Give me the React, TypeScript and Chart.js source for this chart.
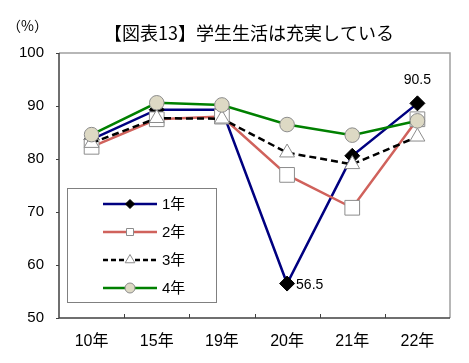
import React, { useEffect, useRef } from "react";
import { Chart, registerables } from "chart.js";

Chart.register(...registerables);

const title = "【図表13】学生生活は充実している";
const unitLabel = "（%）";
const categories = ["10年", "15年", "19年", "20年", "21年", "22年"];
const seriesNames = ["1年", "2年", "3年", "4年"];
const year1 = [83.7, 89.3, 89.3, 56.5, 80.6, 90.5];
const year2 = [82.3, 87.5, 88.0, 77.0, 70.8, 87.5];
const year3 = [83.0, 87.7, 87.6, 81.2, 79.0, 84.2];
const year4 = [84.6, 90.6, 90.2, 86.5, 84.5, 87.2];
const yMin = 50;
const yMax = 100;
const yStep = 10;
const labelledPoints = [
  { series: 0, index: 5, text: "90.5", pos: "above" },
  { series: 0, index: 3, text: "56.5", pos: "right" },
];

const FONT = "'Liberation Sans', Arial, 'Noto Sans CJK JP', sans-serif";
const JFONT = "'Noto Sans CJK JP', sans-serif";

const styles = [
  { color: "#000080", dash: [] as number[], point: "rectRot", r: 7.5, fill: "#000000", border: "#000000", lr: 4.5 },
  { color: "#D0625C", dash: [] as number[], point: "rect", r: 10.4, fill: "#FFFFFF", border: "#8C8C8C", lr: 7 },
  { color: "#000000", dash: [7, 4], point: "triangle", r: 8.6, fill: "#FFFFFF", border: "#8C8C8C", lr: 5.5 },
  { color: "#008000", dash: [] as number[], point: "circle", r: 7.3, fill: "#DDD9C4", border: "#8C8C8C", lr: 5 },
];

const decor = {
  id: "decor",
  beforeDatasetsDraw(chart: any) {
    const { ctx, chartArea: a } = chart;
    const xs = chart.scales.x;
    const ys = chart.scales.y;
    ctx.save();
    ctx.strokeStyle = "#A0A0A0";
    ctx.lineWidth = 1.5;
    ctx.beginPath();
    ctx.moveTo(a.left, a.top);
    ctx.lineTo(a.right, a.top);
    ctx.lineTo(a.right, a.bottom);
    ctx.stroke();
    ctx.strokeStyle = "#404040";
    ctx.lineWidth = 1.5;
    ctx.beginPath();
    ctx.moveTo(a.left, a.top);
    ctx.lineTo(a.left, a.bottom);
    ctx.lineTo(a.right, a.bottom);
    ctx.stroke();
    ctx.lineWidth = 1;
    for (let v = yMin; v <= yMax; v += yStep) {
      const y = Math.round(ys.getPixelForValue(v)) + 0.5;
      ctx.beginPath();
      ctx.moveTo(a.left - 3, y);
      ctx.lineTo(a.left, y);
      ctx.stroke();
    }
    for (let i = 0; i < categories.length - 1; i++) {
      const x = Math.round((xs.getPixelForValue(i) + xs.getPixelForValue(i + 1)) / 2) + 0.5;
      ctx.beginPath();
      ctx.moveTo(x, a.bottom);
      ctx.lineTo(x, a.bottom - 4);
      ctx.stroke();
    }
    ctx.restore();
  },
  afterDraw(chart: any) {
    const { ctx } = chart;
    ctx.save();
    ctx.fillStyle = "#000";
    ctx.textAlign = "center";
    ctx.textBaseline = "middle";
    ctx.font = `18px ${JFONT}`;
    ctx.fillText(title, 249, 33);
    ctx.textAlign = "left";
    ctx.font = `14px ${JFONT}`;
    ctx.fillText(unitLabel, 7, 26);
    ctx.font = `14px ${FONT}`;
    for (const lp of labelledPoints) {
      const el = chart.getDatasetMeta(lp.series).data[lp.index];
      if (!el) continue;
      if (lp.pos === "above") {
        ctx.textAlign = "center";
        ctx.fillText(lp.text, el.x, el.y - 23);
      } else {
        ctx.textAlign = "left";
        ctx.fillText(lp.text, el.x + 9, el.y + 2);
      }
    }
    const bx = 67.5, by = 188.5, bw = 149, bh = 114;
    ctx.fillStyle = "#FFFFFF";
    ctx.fillRect(bx, by, bw, bh);
    ctx.strokeStyle = "#808080";
    ctx.lineWidth = 1;
    ctx.strokeRect(bx, by, bw, bh);
    const rowsY = [204, 232, 260, 288];
    for (let i = 0; i < seriesNames.length; i++) {
      const s = styles[i];
      const y = rowsY[i];
      ctx.strokeStyle = s.color;
      ctx.lineWidth = 2.5;
      ctx.setLineDash(s.dash.length ? [5, 3] : []);
      ctx.beginPath();
      ctx.moveTo(103, y);
      ctx.lineTo(157, y);
      ctx.stroke();
      ctx.setLineDash([]);
      ctx.fillStyle = s.fill;
      ctx.strokeStyle = s.border;
      ctx.lineWidth = 1;
      const cx = 130;
      const r = s.lr;
      ctx.beginPath();
      if (s.point === "rectRot") {
        ctx.moveTo(cx, y - r);
        ctx.lineTo(cx + r, y);
        ctx.lineTo(cx, y + r);
        ctx.lineTo(cx - r, y);
        ctx.closePath();
      } else if (s.point === "rect") {
        ctx.rect(cx - r / 2, y - r / 2, r, r);
      } else if (s.point === "triangle") {
        ctx.moveTo(cx, y - r);
        ctx.lineTo(cx + r * 0.87, y + r * 0.5);
        ctx.lineTo(cx - r * 0.87, y + r * 0.5);
        ctx.closePath();
      } else {
        ctx.arc(cx, y, r, 0, Math.PI * 2);
      }
      ctx.fill();
      ctx.stroke();
      ctx.fillStyle = "#000";
      ctx.textAlign = "left";
      ctx.textBaseline = "middle";
      ctx.font = `15px ${FONT}`;
      ctx.fillText(seriesNames[i], 162, y + 1);
    }
    ctx.restore();
  },
};

export default function App() {
  const ref = useRef<HTMLCanvasElement | null>(null);
  useEffect(() => {
    document.body.style.margin = "0";
    const seriesValues = [year1, year2, year3, year4];
    const chart = new Chart(ref.current as HTMLCanvasElement, {
      type: "line",
      data: {
        labels: categories,
        datasets: seriesValues.map((vals, i) => ({
          label: seriesNames[i],
          data: vals,
          borderColor: styles[i].color,
          borderWidth: 2.5,
          borderDash: styles[i].dash,
          pointStyle: styles[i].point as any,
          pointRadius: styles[i].r,
          pointBackgroundColor: styles[i].fill,
          pointBorderColor: styles[i].border,
          pointBorderWidth: 1,
          tension: 0,
          order: 4 - i,
        })),
      },
      options: {
        animation: false,
        responsive: false,
        events: [],
        layout: { padding: { left: 0, top: 53, right: 19, bottom: 0 } },
        plugins: { legend: { display: false }, tooltip: { enabled: false }, title: { display: false } },
        scales: {
          x: {
            type: "category",
            offset: true,
            grid: { display: false, drawTicks: false },
            border: { display: false },
            ticks: { color: "#000", font: { size: 16, family: FONT }, padding: 14, maxRotation: 0 },
            afterFit: (s: any) => { s.height = 45; },
          },
          y: {
            min: yMin,
            max: yMax,
            grid: { display: false, drawTicks: false },
            border: { display: false },
            ticks: { stepSize: yStep, color: "#000", font: { size: 15, family: FONT }, padding: 15 },
            afterFit: (s: any) => { s.width = 59; },
          },
        },
      },
      plugins: [decor],
    });
    return () => chart.destroy();
  }, []);
  return <canvas ref={ref} width={469} height={363} style={{ display: "block", width: 469, height: 363 }} />;
}
